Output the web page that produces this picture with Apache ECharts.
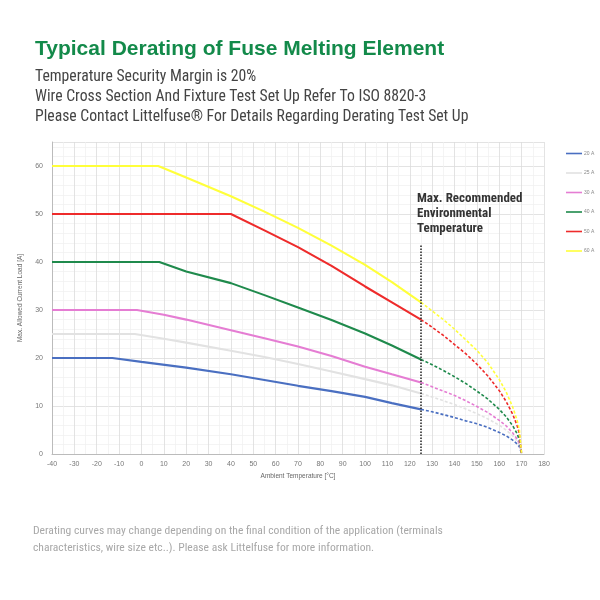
<!DOCTYPE html>
<html>
<head>
<meta charset="utf-8">
<script src="https://cdn.jsdelivr.net/npm/echarts@6/dist/echarts.min.js"></script>
<style>
html,body{margin:0;padding:0;background:#fff;}
#c{width:600px;height:600px;}
</style>
</head>
<body>
<div id="c"></div>
<script>
// ---- data ----
var seriesNames = ['20 A', '25 A', '30 A', '40 A', '50 A', '60 A'];
var xTicks = [-40, -30, -20, -10, 0, 10, 20, 30, 40, 50, 60, 70, 80, 90, 100, 110, 120, 130, 140, 150, 160, 170, 180];
var yTicks = [0, 10, 20, 30, 40, 50, 60];

// solid part (rated region, up to 125 °C)
var t20 = [-40, -13, 0, 20, 40, 55, 70, 85, 100, 112, 125];
var v20 = [20, 20, 19.2, 18.0, 16.6, 15.4, 14.2, 13.1, 11.9, 10.6, 9.3];
var t25 = [-40, -3, 10, 20, 40, 55, 70, 85, 100, 112, 125];
var v25 = [25, 25, 24.0, 23.2, 21.5, 20.2, 18.75, 17.2, 15.6, 14.3, 12.6];
var t30 = [-40, -2, 10, 20, 40, 55, 70, 85, 100, 112, 125];
var v30 = [30, 30, 29.0, 28.0, 25.8, 24.1, 22.4, 20.4, 18.2, 16.6, 14.9];
var t40 = [-40, 8, 20, 40, 55, 70, 85, 100, 112, 125];
var v40 = [40, 40, 38.0, 35.6, 33.1, 30.5, 27.9, 25.1, 22.6, 19.7];
var t50 = [-40, 40, 55, 70, 85, 100, 112, 125];
var v50 = [50, 50, 46.6, 43.1, 39.2, 34.9, 31.6, 28.0];
var t60 = [-40, 7.5, 20, 40, 55, 70, 85, 100, 112, 125];
var v60 = [60, 60, 57.6, 53.7, 50.5, 47.1, 43.4, 39.4, 35.8, 31.6];

// dashed part (beyond max. recommended temperature)
var tDash = [125, 130, 135, 140, 145, 150, 155, 160, 163, 166, 168, 169, 170];
var d20 = [9.3, 8.8, 8.2, 7.6, 6.9, 6.3, 5.5, 4.5, 3.8, 2.9, 2.1, 1.5, 0];
var d25 = [12.6, 11.9, 11.1, 10.3, 9.4, 8.4, 7.3, 6.0, 5.0, 3.8, 2.7, 1.9, 0];
var d30 = [14.9, 14.0, 13.1, 12.2, 11.1, 9.9, 8.6, 7.0, 5.9, 4.4, 3.1, 2.2, 0];
var d40 = [19.7, 18.6, 17.4, 16.1, 14.7, 13.1, 11.4, 9.3, 7.8, 5.9, 4.2, 2.9, 0];
var d50 = [28.0, 26.4, 24.7, 22.8, 20.9, 18.7, 16.2, 13.2, 11.0, 8.3, 5.9, 4.2, 0];
var d60 = [31.6, 29.8, 28.0, 26.0, 23.8, 21.6, 18.9, 15.5, 13.0, 9.8, 7.0, 5.0, 0];

var maxTemp = 125;
var maxTempTop = 43.7;

var colors = ['#4a6fc1', '#e2e2e2', '#e57dd3', '#1f8a4c', '#ee2b2b', '#ffff3a'];

function pairs(t, v) { return t.map(function (x, i) { return [x, v[i]]; }); }

var solid = [[t20, v20], [t25, v25], [t30, v30], [t40, v40], [t50, v50], [t60, v60]];
var dashed = [d20, d25, d30, d40, d50, d60];

var series = [];
seriesNames.forEach(function (n, i) {
  series.push({
    name: n, type: 'line', data: pairs(solid[i][0], solid[i][1]),
    showSymbol: false, symbol: 'none', smooth: false,
    lineStyle: { color: colors[i], width: 2.1 }, itemStyle: { color: colors[i] },
    z: 3 + i
  });
});
seriesNames.forEach(function (n, i) {
  series.push({
    name: n, type: 'line', data: pairs(tDash, dashed[i]),
    showSymbol: false, symbol: 'none', smooth: false,
    lineStyle: { color: colors[i], width: 1.6, type: [3, 2] }, itemStyle: { color: colors[i] },
    z: 3 + i
  });
});
// vertical dotted line at max recommended temperature
series.push({
  name: 'maxT', type: 'line', data: [[maxTemp, 0], [maxTemp, maxTempTop]],
  showSymbol: false, symbol: 'none',
  lineStyle: { color: '#222', width: 1.5, type: [1.5, 1.5] }, z: 20
});

var narrow = '"Liberation Sans Narrow", "Arial Narrow", "Roboto Condensed", "Liberation Sans", sans-serif';

var chart = echarts.init(document.getElementById('c'), null, { renderer: 'canvas' });
chart.setOption({
  backgroundColor: '#fff',
  animation: false,
  title: [
    { text: 'Typical Derating of Fuse Melting Element', left: 30, top: 34,
      textStyle: { color: '#138a4a', fontSize: 21, fontWeight: 'bold', fontFamily: '"Liberation Sans", Arial, sans-serif' } },
    { text: 'Temperature Security Margin is 20%\nWire Cross Section And Fixture Test Set Up Refer To ISO 8820-3\nPlease Contact Littelfuse\u00ae For Details Regarding Derating Test Set Up',
      left: 30, top: 62,
      textStyle: { color: '#444', fontSize: 15.7, fontWeight: 'normal', lineHeight: 20, fontFamily: narrow } },
    { text: 'Derating curves may change depending on the final condition of the application (terminals\ncharacteristics, wire size etc..). Please ask Littelfuse for more information.',
      left: 28, top: 518,
      textStyle: { color: '#a8a8a8', fontSize: 11.6, fontWeight: 'normal', lineHeight: 17, fontFamily: narrow } }
  ],
  legend: {
    orient: 'vertical', left: 561, top: 146, itemGap: 14.5, itemWidth: 16, itemHeight: 6,
    data: seriesNames,
    textStyle: { fontSize: 5, color: '#888', padding: [0, 0, 0, -3] },
    icon: 'path://M0,0 L10,0 L10,1 L0,1 Z'
  },
  grid: { left: 52, right: 56, top: 142, bottom: 146, containLabel: false },
  xAxis: {
    type: 'value', min: -40, max: 180, interval: 10,
    name: 'Ambient Temperature [\u00b0C]', nameLocation: 'middle', nameGap: 17,
    nameTextStyle: { fontSize: 6.5, color: '#666' },
    axisLine: { show: true, onZero: false, lineStyle: { color: '#bbb' } },
    axisTick: { show: false },
    axisLabel: { fontSize: 7, color: '#777', margin: 7,
      formatter: function (v) { return xTicks.indexOf(v) >= 0 ? String(v) : ''; } },
    splitLine: { show: true, lineStyle: { color: '#dcdcdc', width: 0.8 } },
    minorTick: { show: false, splitNumber: 2 },
    minorSplitLine: { show: true, lineStyle: { color: '#efefef', width: 0.7 } }
  },
  yAxis: {
    type: 'value', min: 0, max: 65, interval: 10,
    name: 'Max. Allowed Current Load [A]', nameLocation: 'middle', nameGap: 28,
    nameTextStyle: { fontSize: 6.5, color: '#666' },
    axisLine: { show: true, onZero: false, lineStyle: { color: '#bbb' } },
    axisTick: { show: false },
    axisLabel: { fontSize: 7, color: '#777', margin: 9, showMaxLabel: false,
      formatter: function (v) { return yTicks.indexOf(v) >= 0 ? String(v) : ''; } },
    splitLine: { show: true, lineStyle: { color: '#dcdcdc', width: 0.8 } },
    minorTick: { show: false, splitNumber: 5 },
    minorSplitLine: { show: true, lineStyle: { color: '#efefef', width: 0.7 } }
  },
  graphic: [
    { type: 'text', left: 417, top: 191, z: 30,
      style: { text: 'Max. Recommended\nEnvironmental\nTemperature', fill: '#333', fontSize: 13,
        fontWeight: 'bold', lineHeight: 15, fontFamily: narrow } }
  ],
  series: series
});
</script>
</body>
</html>
